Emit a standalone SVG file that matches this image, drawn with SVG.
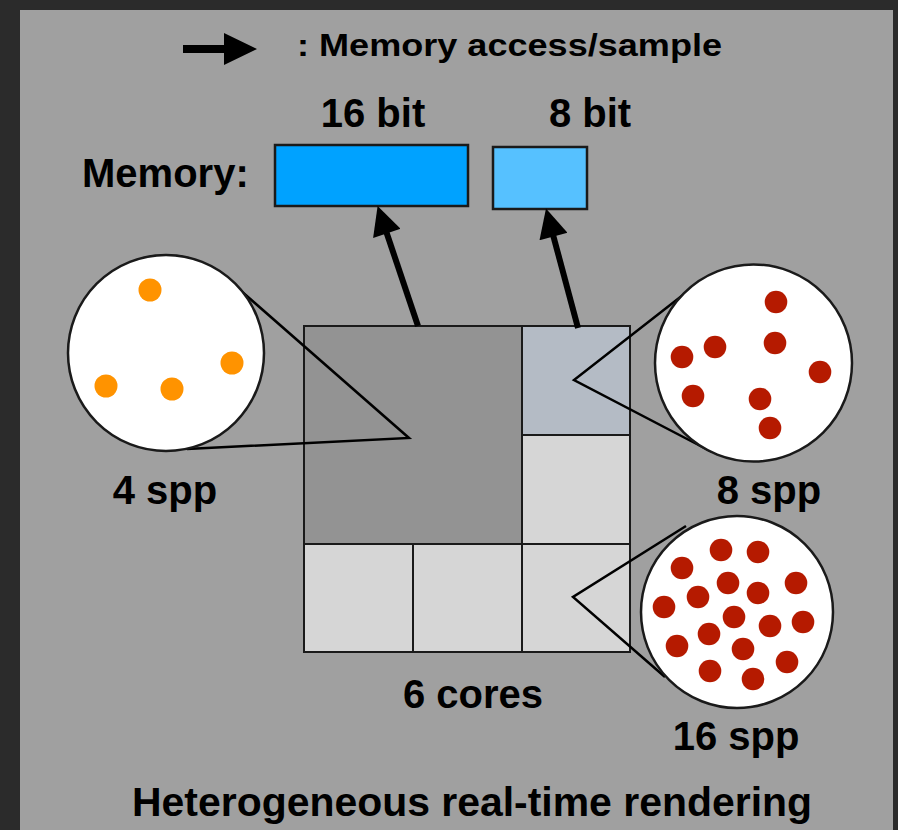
<svg xmlns="http://www.w3.org/2000/svg" width="898" height="830" viewBox="0 0 898 830">
  <defs>
    <style>
      .lbl { font-family: "Liberation Sans", Arial, Helvetica, sans-serif; font-weight: bold; font-size: 40px; fill: #000; }
      .cell { stroke: #1a1a1a; stroke-width: 2; }
      .mem { stroke: #1a1a1a; stroke-width: 2.5; }
      .callout { fill: none; stroke: #000; stroke-width: 2.5; stroke-linejoin: miter; }
      .zoom { fill: #fff; stroke: #1a1a1a; stroke-width: 2.5; }
      .o { fill: #ff9300; }
      .r { fill: #b51a00; }
      .acc { stroke: #000; stroke-width: 6; fill: none; }
    </style>
    <marker id="ah" viewBox="0 0 10 10" refX="2" refY="5" markerWidth="31" markerHeight="29" markerUnits="userSpaceOnUse" orient="auto">
      <path d="M0,0 L10,5 L0,10 Z" fill="#000"/>
    </marker>
  </defs>

  <!-- background -->
  <rect x="0" y="0" width="898" height="830" fill="#2b2b2b"/>
  <rect x="20" y="10" width="873" height="820" fill="#a0a0a0"/>

  <!-- legend -->
  <g id="legend">
    <polygon points="183,45 224,45 224,33 257,49 224,65 224,53 183,53" fill="#000"/>
    <text class="lbl" x="297" y="56" style="font-size:31px" textLength="425" lengthAdjust="spacingAndGlyphs">: Memory access/sample</text>
  </g>

  <!-- memory -->
  <g id="memory-label">
    <text class="lbl" x="82" y="187">Memory:</text>
  </g>
  <g id="mem16">
    <text class="lbl" x="373" y="127" text-anchor="middle">16 bit</text>
    <rect class="mem" x="275" y="145" width="193" height="61" fill="#00a2ff"/>
  </g>
  <g id="mem8">
    <text class="lbl" x="590" y="127" text-anchor="middle">8 bit</text>
    <rect class="mem" x="493" y="147" width="94" height="62" fill="#56c1ff"/>
  </g>

  <!-- cores grid -->
  <g id="cores">
    <rect class="cell" id="core-big" x="304" y="326" width="218" height="218" fill="#939393"/>
    <rect class="cell" id="core-8" x="522" y="326" width="108" height="109" fill="#b4bbc5"/>
    <rect class="cell" id="core-r2" x="522" y="435" width="108" height="109" fill="#d6d6d6"/>
    <rect class="cell" id="core-b1" x="304" y="544" width="109" height="108" fill="#d6d6d6"/>
    <rect class="cell" id="core-b2" x="413" y="544" width="109" height="108" fill="#d6d6d6"/>
    <rect class="cell" id="core-16" x="522" y="544" width="108" height="108" fill="#d6d6d6"/>
    <text class="lbl" x="473" y="708" text-anchor="middle">6 cores</text>
  </g>

  <!-- connectors -->
  <g id="connectors">
    <line class="acc" x1="418" y1="326" x2="385" y2="228" marker-end="url(#ah)"/>
    <line class="acc" x1="578" y1="328" x2="552" y2="231" marker-end="url(#ah)"/>
    <polyline class="callout" points="240,290 409,438 187,449"/>
    <polyline class="callout" points="697,284 574,380 712,452"/>
    <polyline class="callout" points="686,526 573,597 665,677"/>
  </g>

  <!-- 4 spp -->
  <g id="zoom-4spp">
    <circle class="zoom" cx="166" cy="353" r="98"/>
    <circle class="o" cx="150" cy="290" r="11.5"/>
    <circle class="o" cx="232" cy="363" r="11.5"/>
    <circle class="o" cx="106" cy="386" r="11.5"/>
    <circle class="o" cx="172" cy="389" r="11.5"/>
    <text class="lbl" x="165" y="504" text-anchor="middle">4 spp</text>
  </g>

  <!-- 8 spp -->
  <g id="zoom-8spp">
    <circle class="zoom" cx="753.5" cy="363" r="98.5"/>
    <circle class="r" cx="776" cy="302" r="11.3"/>
    <circle class="r" cx="775" cy="343" r="11.3"/>
    <circle class="r" cx="715" cy="347" r="11.3"/>
    <circle class="r" cx="682" cy="357" r="11.3"/>
    <circle class="r" cx="820" cy="372" r="11.3"/>
    <circle class="r" cx="693" cy="396" r="11.3"/>
    <circle class="r" cx="760" cy="399" r="11.3"/>
    <circle class="r" cx="770" cy="428" r="11.3"/>
    <text class="lbl" x="769" y="504" text-anchor="middle">8 spp</text>
  </g>

  <!-- 16 spp -->
  <g id="zoom-16spp">
    <circle class="zoom" cx="737" cy="612" r="96"/>
    <circle class="r" cx="721" cy="550" r="11.3"/>
    <circle class="r" cx="758" cy="552" r="11.3"/>
    <circle class="r" cx="682" cy="568" r="11.3"/>
    <circle class="r" cx="728" cy="583" r="11.3"/>
    <circle class="r" cx="758" cy="593" r="11.3"/>
    <circle class="r" cx="796" cy="583" r="11.3"/>
    <circle class="r" cx="698" cy="597" r="11.3"/>
    <circle class="r" cx="664" cy="607" r="11.3"/>
    <circle class="r" cx="734" cy="617" r="11.3"/>
    <circle class="r" cx="770" cy="626" r="11.3"/>
    <circle class="r" cx="803" cy="622" r="11.3"/>
    <circle class="r" cx="709" cy="634" r="11.3"/>
    <circle class="r" cx="677" cy="646" r="11.3"/>
    <circle class="r" cx="743" cy="649" r="11.3"/>
    <circle class="r" cx="787" cy="662" r="11.3"/>
    <circle class="r" cx="710" cy="671" r="11.3"/>
    <circle class="r" cx="753" cy="679" r="11.3"/>
    <text class="lbl" x="736" y="750" text-anchor="middle">16 spp</text>
  </g>

  <!-- title -->
  <g id="title">
    <text class="lbl" x="472" y="816" text-anchor="middle" textLength="680" lengthAdjust="spacingAndGlyphs">Heterogeneous real-time rendering</text>
  </g>
</svg>
